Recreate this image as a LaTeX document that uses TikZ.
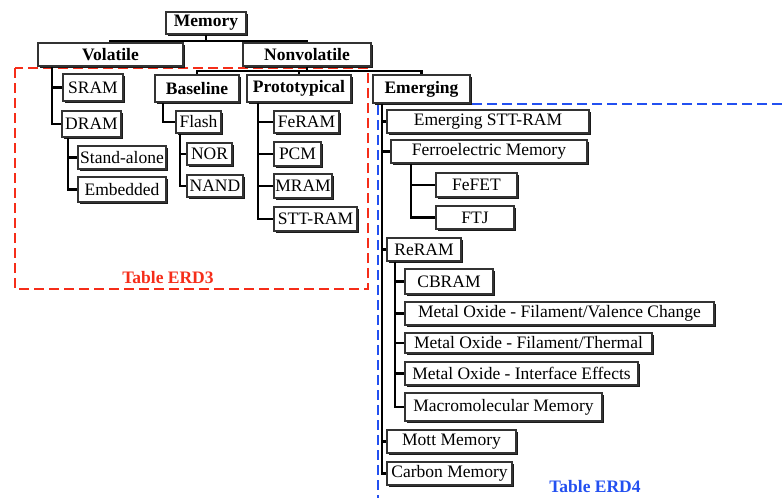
\documentclass[tikz,border=0pt]{standalone}
\usepackage{fontspec}
\setmainfont{Liberation Serif}
\usetikzlibrary{calc,shadows}
\definecolor{erdred}{RGB}{245,45,25}
\definecolor{erdblue}{RGB}{35,80,240}
\tikzset{
  box/.style={draw=black!80, line width=1.8pt, fill=white, inner sep=0pt,
    font=\fontsize{17.5}{17.5}\selectfont,
    drop shadow={shadow xshift=1.8pt, shadow yshift=-1.8pt, fill=black!90, opacity=1}},
  head/.style={box, font=\fontsize{17.5}{17.5}\selectfont\bfseries},
  link/.style={line width=2.6pt, black},
  erdthree/.style={draw=erdred, line width=2.8pt, dash pattern=on 10pt off 5pt},
  erdfour/.style={draw=erdblue, line width=2.8pt, dash pattern=on 10pt off 5pt},
  tablabel/.style={font=\fontsize{17.5}{17.5}\selectfont\bfseries, inner sep=0pt}
}
% \bx[style]{name}{x1}{y1}{x2}{y2}{text}
\newcommand\bx[7][box]{%
  \node[#1, minimum width={(#5-#3)*1pt}, minimum height={(#6-#4)*1pt}]
    (#2) at ({(#3+#5)/2},{(#4+#6)/2}) {#7};}
\begin{document}
\begin{tikzpicture}[x=1pt,y=-1pt]
\useasboundingbox (0,0) rectangle (782,498);

% table regions
\draw[erdthree] (15,68) rectangle (368,289);
\draw[erdfour] (782,104) -- (378,104) -- (378,498);
\node[tablabel, text=erdred] (erdA) at (168,278) {Table ERD3};
\node[tablabel, text=erdblue] (erdB) at (595,487) {Table ERD4};

% top levels
\bx[head]{mem}{166}{12}{246}{34}{Memory}
\bx[head]{vol}{38}{43}{183}{66}{Volatile}
\bx[head]{nonvol}{243}{43}{371}{66}{Nonvolatile}
\bx[head]{base}{155}{75}{239}{102}{Baseline}
\bx[head]{proto}{247}{75}{351}{102}{Prototypical}
\bx[head]{emerg}{373}{75}{470}{103}{Emerging}

% volatile
\bx{sram}{63}{74}{123}{101}{SRAM}
\bx{dram}{62}{111}{121}{137}{DRAM}
\bx{stand}{78}{146}{166}{169}{Stand-alone}
\bx{embed}{78}{177}{166}{202}{Embedded}

% baseline
\bx{flash}{176}{111}{221}{133}{Flash}
\bx{nor}{187}{143}{232}{165}{NOR}
\bx{nand}{187}{175}{243}{197}{NAND}

% prototypical
\bx{feram}{274}{111}{339}{133}{FeRAM}
\bx{pcm}{274}{142}{321}{166}{PCM}
\bx{mram}{274}{174}{332}{198}{MRAM}
\bx{sttram}{274}{207}{357}{231}{STT-RAM}

% emerging
\bx{estt}{387}{110}{589}{133}{Emerging STT-RAM}
\bx{ferro}{391}{140}{587}{163}{Ferroelectric Memory}
\bx{fefet}{436}{173}{517}{197}{FeFET}
\bx{ftj}{436}{206}{514}{229}{FTJ}
\bx{reram}{387}{238}{461}{261}{ReRAM}
\bx{cbram}{405}{269}{493}{294}{CBRAM}
\bx{mofv}{405}{302}{714}{325}{Metal Oxide - Filament/Valence Change}
\bx{moft}{405}{333}{652}{353}{Metal Oxide - Filament/Thermal}
\bx{moie}{405}{362}{638}{385}{Metal Oxide - Interface Effects}
\bx{macro}{405}{393}{602}{421}{Macromolecular Memory}
\bx{mott}{387}{430}{516}{453}{Mott Memory}
\bx{carbon}{387}{462}{512}{485}{Carbon Memory}

% connectors
\draw[link] (mem.south) -- ++(0,6) -| (vol.north);
\draw[link] (mem.south) -- ++(0,6) -| (nonvol.north);
\draw[link] (nonvol.south) -- ++(0,4) -| (base.north);
\draw[link] (nonvol.south) -- ++(0,4) -| (proto.north);
\draw[link] (nonvol.south) -- ++(0,4) -| (emerg.north);

\draw[link] ($(vol.south west)+(15,0)$) |- (sram.west);
\draw[link] ($(vol.south west)+(15,0)$) |- (dram.west);
\draw[link] ($(dram.south west)+(7,0)$) |- (stand.west);
\draw[link] ($(dram.south west)+(7,0)$) |- (embed.west);

\draw[link] ($(base.south west)+(9,0)$) |- (flash.west);
\draw[link] ($(flash.south west)+(5,0)$) |- (nor.west);
\draw[link] ($(flash.south west)+(5,0)$) |- (nand.west);

\draw[link] ($(proto.south west)+(12,0)$) |- (feram.west);
\draw[link] ($(proto.south west)+(12,0)$) |- (pcm.west);
\draw[link] ($(proto.south west)+(12,0)$) |- (mram.west);
\draw[link] ($(proto.south west)+(12,0)$) |- (sttram.west);

\foreach \n in {estt,ferro,reram,mott,carbon}
  \draw[link] ($(emerg.south west)+(10,0)$) |- (\n.west);
\draw[link] ($(ferro.south west)+(21,0)$) |- (fefet.west);
\draw[link] ($(ferro.south west)+(21,0)$) |- (ftj.west);
\foreach \n in {cbram,mofv,moft,moie,macro}
  \draw[link] ($(reram.south west)+(9,0)$) |- (\n.west);
\end{tikzpicture}
\end{document}
